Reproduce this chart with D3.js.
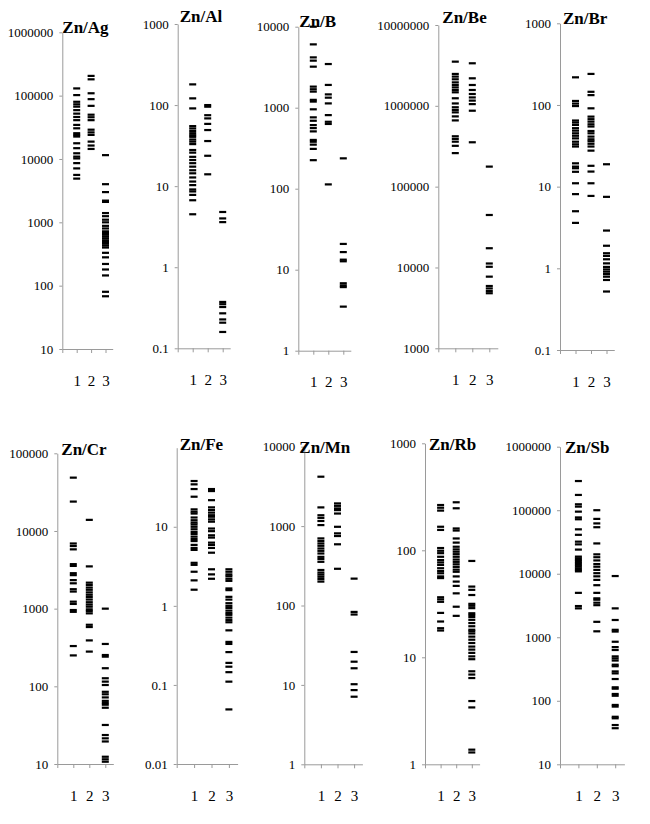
<!DOCTYPE html>
<html>
<head>
<meta charset="utf-8">
<script src="https://cdn.jsdelivr.net/npm/d3@7"></script>
<style>
  body { margin: 0; background: #fff; }
  svg { display: block; }
</style>
</head>
<body>
<script>
// ratios, 3 groups per panel
var titles = ["Zn/Ag", "Zn/Al", "Zn/B", "Zn/Be", "Zn/Br", "Zn/Cr", "Zn/Fe", "Zn/Mn", "Zn/Rb", "Zn/Sb"];
var categories = [1, 2, 3];

var yDomains = [[10, 1e6], [0.1, 1000], [1, 10000], [1000, 1e7], [0.1, 1000],
                [10, 1e5], [0.01, 100], [1, 10000], [1, 1000], [10, 1e6]];

var yTickLabels = [
  [10, 100, 1000, 10000, 100000, 1000000],
  [0.1, 1, 10, 100, 1000],
  [1, 10, 100, 1000, 10000],
  [1000, 10000, 100000, 1000000, 10000000],
  [0.1, 1, 10, 100, 1000],
  [10, 100, 1000, 10000, 100000],
  [0.01, 0.1, 1, 10],
  [1, 10, 100, 1000, 10000],
  [1, 10, 100, 1000],
  [10, 100, 1000, 10000, 100000, 1000000]
];

var znAg = [
  [130000, 102000, 80000, 73000, 67000, 59000, 52000, 46000, 41000, 34500, 30500, 25500, 24000, 22600, 17700, 14800, 12300, 10900, 10200, 8600, 7100, 5600, 4900],
  [205000, 181000, 109000, 88000, 69000, 50000, 45600, 41000, 29000, 26300, 24000, 18800, 16300, 14400],
  [11500, 4000, 3000, 2200, 2100, 1400, 1250, 1100, 1000, 880, 800, 720, 680, 640, 600, 560, 520, 490, 460, 430, 400, 330, 280, 220, 180, 145, 80, 68]
];
var znAl = [
  [180, 121, 91, 55, 51.5, 48, 45, 42.5, 40.6, 37.6, 35.4, 33, 27.9, 25.9, 23, 21, 19.2, 17.4, 15.7, 14.4, 12.8, 11.4, 10.3, 9.1, 8.6, 7.8, 6.7, 4.5],
  [100, 95.5, 75, 68.5, 58.6, 49.2, 36, 23.7, 14],
  [4.8, 4, 3.6, 0.373, 0.35, 0.323, 0.27, 0.227, 0.207, 0.159]
];
var znB = [
  [10000, 6050, 4180, 3810, 3210, 1820, 1690, 1580, 1250, 1190, 955, 760, 690, 610, 560, 510, 400, 380, 350, 310, 225],
  [3460, 1910, 1460, 1330, 1130, 810, 670, 630, 113],
  [237, 20.8, 16.5, 13.3, 12.7, 6.8, 6.4, 6.1, 3.5]
];
var znBe = [
  [3520000, 2480000, 2300000, 2130000, 1950000, 1810000, 1690000, 1570000, 1470000, 1240000, 1070000, 960000, 890000, 830000, 740000, 660000, 420000, 390000, 360000, 320000, 260000],
  [3360000, 2190000, 1810000, 1570000, 1400000, 1270000, 1160000, 1050000, 870000, 354000],
  [177000, 44600, 17300, 11200, 10200, 7700, 5900, 5500, 5100, 4800]
];
var znBr = [
  [218, 112, 104, 97, 64.5, 61, 57, 52, 48.5, 45, 42, 39, 35.5, 33, 31, 19.3, 17.6, 16.8, 15.2, 11, 8.1, 5, 3.6],
  [240, 145, 132, 91, 72, 67, 62.5, 58, 54.5, 48, 45, 41, 38, 36, 33.5, 31, 27.6, 18, 15.3, 11, 7.7],
  [18.8, 7.5, 2.9, 1.89, 1.53, 1.42, 1.29, 1.15, 1.04, 0.97, 0.91, 0.85, 0.79, 0.72, 0.52]
];
var znCr = [
  [48600, 23900, 6900, 6400, 5800, 3740, 3550, 2860, 2700, 2330, 2120, 1780, 1660, 1230, 1150, 960, 910, 330, 250],
  [13900, 3500, 2160, 2020, 1870, 1750, 1620, 1510, 1410, 1310, 1210, 1130, 1060, 980, 930, 870, 620, 580, 390, 280],
  [1000, 351, 253, 241, 171, 127, 115, 104, 85, 79, 72, 65, 61, 58, 53, 31.8, 23.6, 21.4, 19.5, 12.4, 11.5, 10.7]
];
var znFe = [
  [37.9, 34.4, 30, 24, 16.6, 15.5, 14.7, 13.1, 12.1, 11.3, 10.7, 10, 9.3, 8.6, 8.1, 7.5, 7, 6.6, 5.9, 5.4, 5.1, 3.5, 3.3, 2.7, 2.1, 1.6],
  [30, 28.3, 21.7, 17.6, 16.3, 15.1, 14, 13.4, 12.4, 11.6, 9.5, 8.8, 7.8, 7.3, 6.3, 5.9, 5.4, 4.7, 2.9, 2.5, 2.2],
  [2.9, 2.7, 2.5, 2.37, 2.2, 2.07, 1.66, 1.58, 1.3, 1.2, 1.08, 1, 0.94, 0.87, 0.81, 0.77, 0.71, 0.66, 0.62, 0.49, 0.35, 0.33, 0.26, 0.19, 0.17, 0.145, 0.11, 0.049]
];
var znMn = [
  [4190, 1720, 1370, 1270, 1160, 1030, 700, 650, 605, 565, 523, 488, 452, 410, 385, 355, 280, 260, 245, 230, 215, 200],
  [1930, 1800, 1670, 1590, 1440, 980, 810, 750, 590, 290],
  [218, 83, 77, 26, 19.6, 16.2, 10.2, 8.6, 7.1]
];
var znRb = [
  [265, 250, 235, 166, 155, 105, 99, 94, 87, 81, 77, 73, 68, 64, 61, 57, 55, 36.4, 34.8, 33, 26, 21.6, 18.7, 17.8],
  [281, 247, 160, 153, 129, 118, 108, 102, 97, 92, 87, 82, 78, 74, 70, 66, 63, 57, 51, 46.5, 39.6, 29.7, 24.4],
  [79.5, 45.8, 42.7, 38.2, 31.6, 30.3, 28.8, 25.8, 24.9, 23.8, 22.4, 20.9, 19.5, 18.1, 17.5, 16.7, 15.6, 14.6, 13.6, 12.6, 11.8, 11, 10.2, 9.6, 7.4, 6.9, 6.4, 3.9, 3.4, 1.37, 1.29]
];
var znSb = [
  [288000, 174000, 124000, 114000, 95000, 77000, 72000, 50000, 41000, 32000, 29000, 24000, 18600, 17500, 16500, 15600, 14700, 13800, 13000, 12200, 11500, 10900, 5000, 3100, 2850],
  [100000, 73000, 62000, 54000, 30000, 20200, 18200, 16200, 14200, 12900, 11500, 10200, 9100, 8000, 6600, 5000, 4100, 3900, 3500, 3200, 1750, 1240],
  [9200, 2850, 1870, 1310, 1230, 850, 700, 630, 500, 465, 430, 370, 350, 290, 270, 220, 163, 155, 128, 120, 86, 81, 56, 53, 41.5, 37]
];

var panelData = [znAg, znAl, znB, znBe, znBr, znCr, znFe, znMn, znRb, znSb];

// where each little plot sits on the page
var layout = [
  {x: 62.3,  top: 32.3,  bottom: 349,   step: 14.4, tdx: 0,  tdy: 1},
  {x: 177.7, top: 24,    bottom: 348.3, step: 15,   tdx: 2,  tdy: -2},
  {x: 298.3, top: 26.7,  bottom: 350.7, step: 15,   tdx: 1,  tdy: 0},
  {x: 438.3, top: 25,    bottom: 348.3, step: 17,   tdx: 4,  tdy: -2},
  {x: 560,   top: 23.3,  bottom: 350,   step: 15.5, tdx: 3,  tdy: 1},
  {x: 57.3,  top: 453.3, bottom: 764,   step: 16,   tdx: 4,  tdy: 2},
  {x: 176.7, top: 447.7, bottom: 764,   step: 17.4, tdx: 3,  tdy: 2},
  {x: 304.3, top: 446.7, bottom: 764.3, step: 16.6, tdx: -5, tdy: 6},
  {x: 425,   top: 443.3, bottom: 764.3, step: 15.6, tdx: 4,  tdy: 7},
  {x: 560,   top: 446.7, bottom: 764.3, step: 18.4, tdx: 5,  tdy: 6}
];

var serif = "'Liberation Serif', 'Times New Roman', serif";
var axisColor = "#9a9a9a";

var svg = d3.select("body").append("svg")
  .attr("width", 650)
  .attr("height", 824)
  .style("background", "#fff");

panelData.forEach(function(series, p) {
  var L = layout[p];
  var yScale = d3.scaleLog().domain(yDomains[p]).range([L.bottom, L.top]);
  var xScale = d3.scaleLinear().domain([0, 3.5]).range([L.x, L.x + 3.5 * L.step]);

  var g = svg.append("g");

  var yAxis = d3.axisLeft(yScale)
    .tickValues(yTickLabels[p])
    .tickFormat(function(d) { return String(d); })
    .tickSize(3)
    .tickSizeOuter(0)
    .tickPadding(6);
  var ya = g.append("g")
    .attr("transform", "translate(" + L.x + ",0)")
    .call(yAxis);

  var xAxis = d3.axisBottom(xScale)
    .tickValues([0].concat(categories))
    .tickFormat(function(d) { return d === 0 ? "" : d; })
    .tickSize(4)
    .tickSizeOuter(0)
    .tickPadding(22);
  var xa = g.append("g")
    .attr("transform", "translate(0," + L.bottom + ")")
    .call(xAxis);

  [ya, xa].forEach(function(a) {
    a.select(".domain").attr("stroke", axisColor);
    a.selectAll(".tick line").attr("stroke", axisColor);
    a.selectAll("text").attr("fill", "#000").style("font-family", serif);
  });
  ya.selectAll("text").style("font-size", "13px");
  xa.selectAll("text").style("font-size", "15px");

  series.forEach(function(vals, s) {
    g.selectAll(null)
      .data(vals)
      .enter()
      .append("rect")
      .attr("x", function() { return xScale(categories[s]) - 3.5; })
      .attr("y", function(d) { return yScale(d) - 1.1; })
      .attr("width", 7)
      .attr("height", 2.2)
      .attr("fill", "#000");
  });

  g.append("text")
    .attr("x", L.x + L.tdx)
    .attr("y", L.top + L.tdy)
    .style("font-family", serif)
    .style("font-weight", "bold")
    .style("font-size", "17px")
    .text(titles[p]);
});
</script>
</body>
</html>
